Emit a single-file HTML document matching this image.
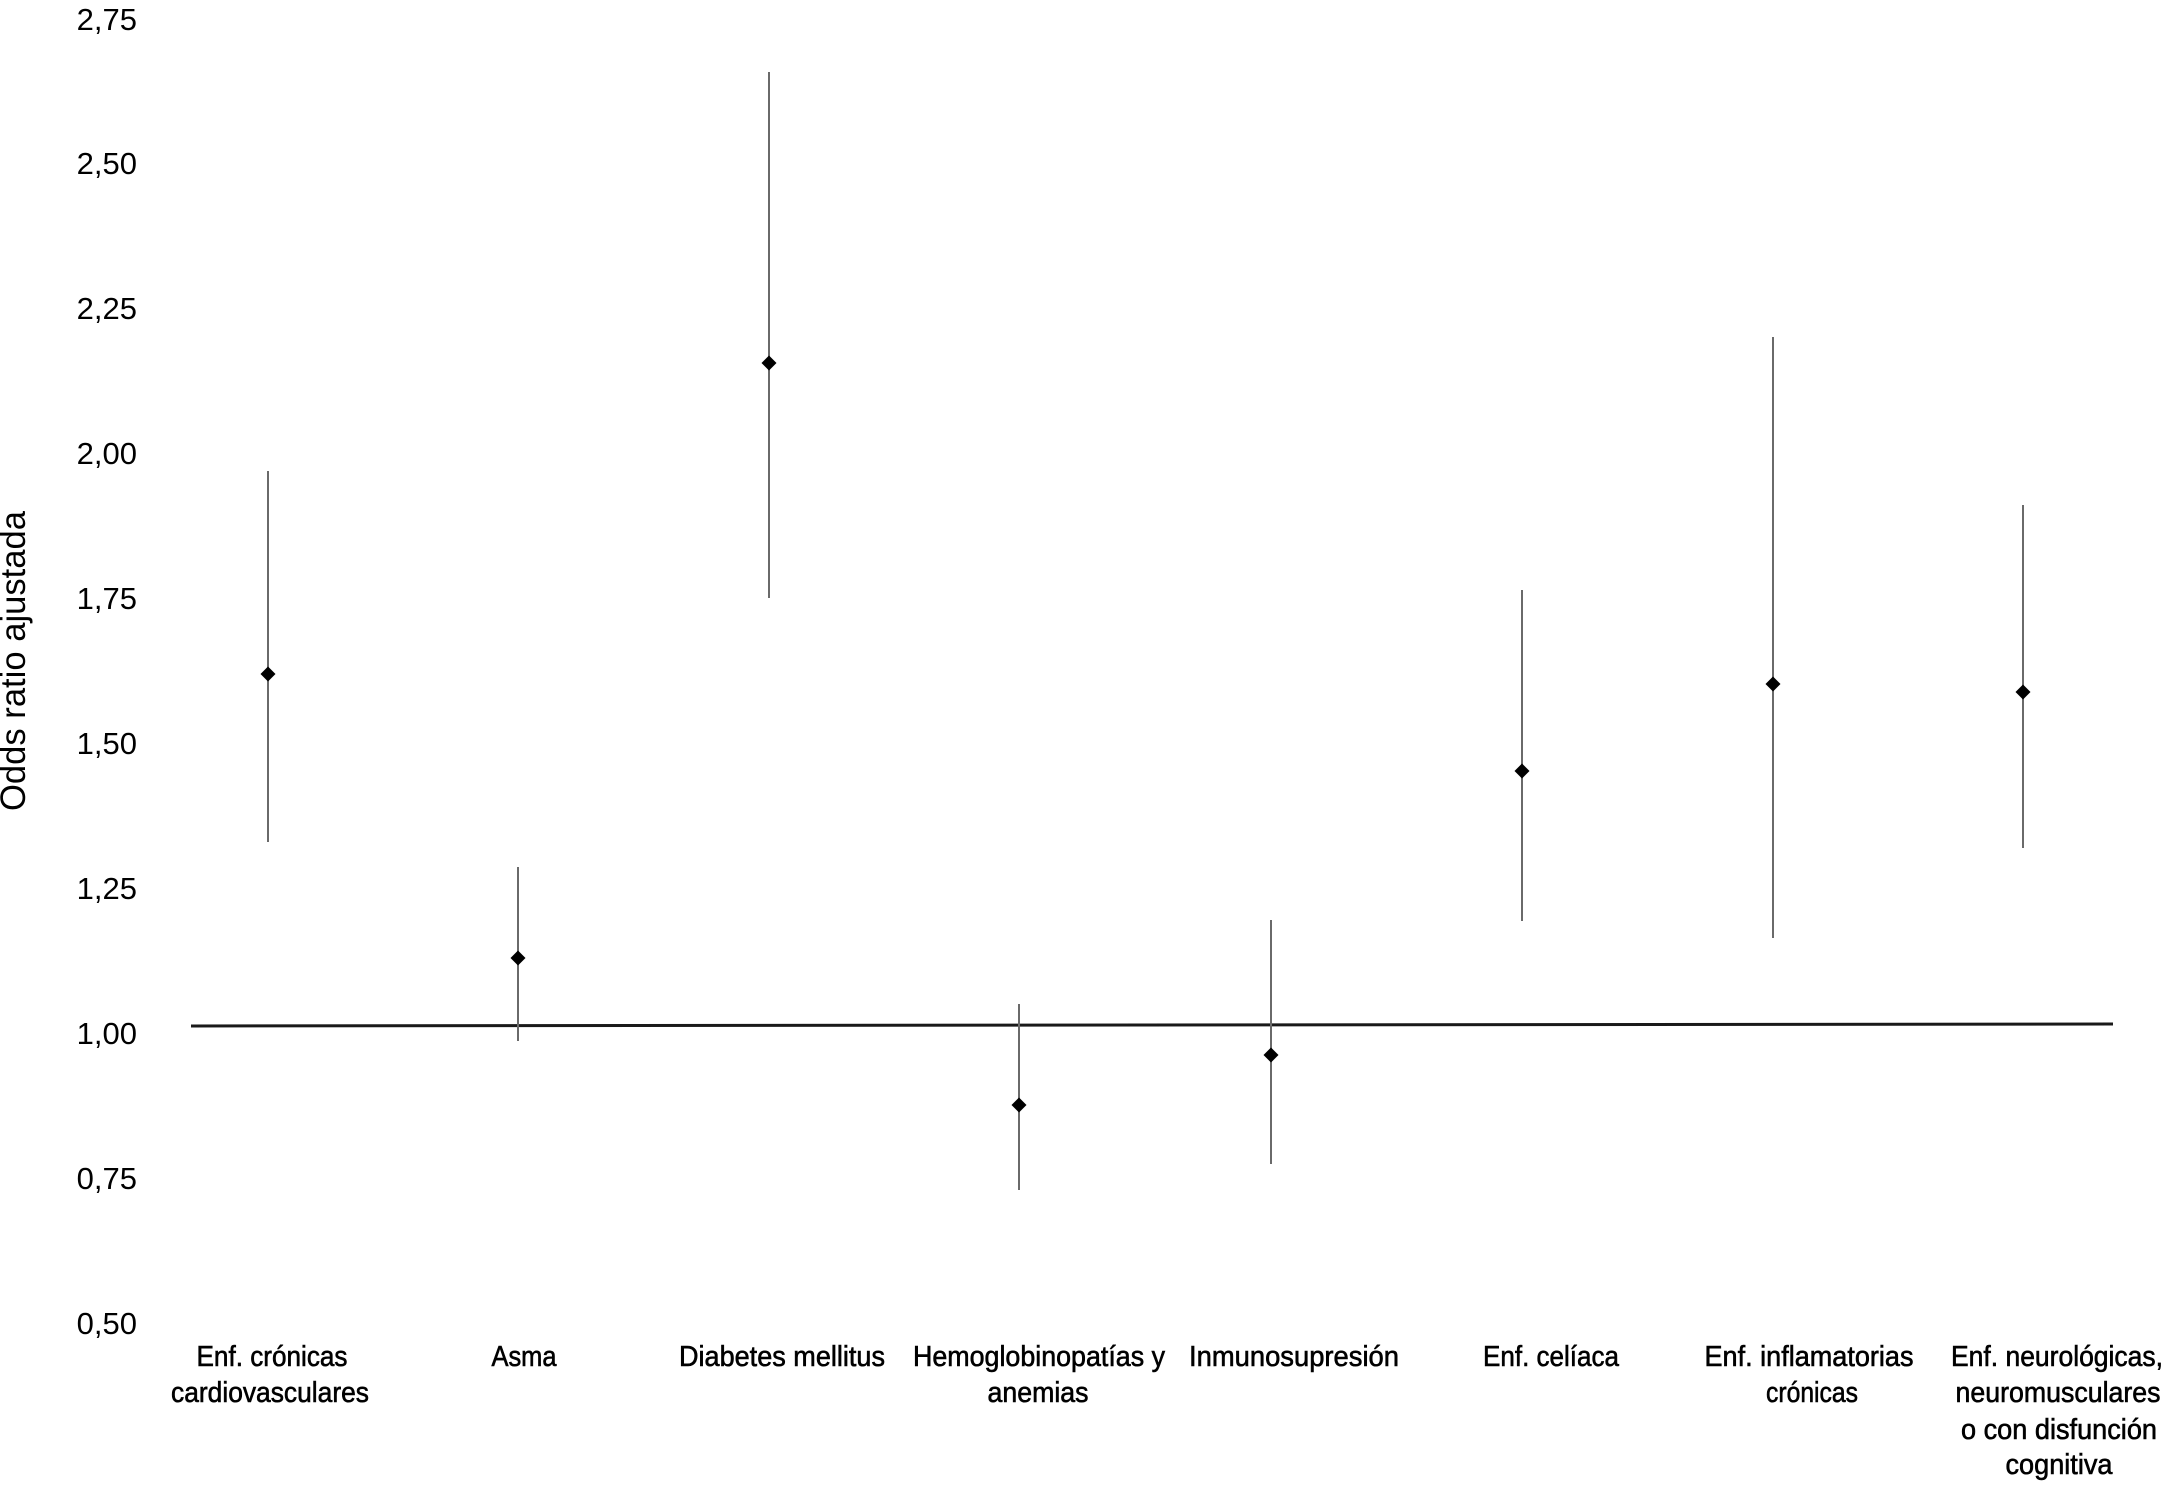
<!DOCTYPE html>
<html>
<head>
<meta charset="utf-8">
<style>
  html, body { margin: 0; padding: 0; background: #ffffff; }
  svg { display: block; }
</style>
</head>
<body>
<svg width="2166" height="1488" viewBox="0 0 2166 1488" xmlns="http://www.w3.org/2000/svg">
  <rect x="0" y="0" width="2166" height="1488" fill="#ffffff"/>

  <!-- Y axis title -->
  <text transform="translate(25,661) rotate(-90)" text-anchor="middle" font-family="Liberation Sans, Arial, sans-serif" font-size="35" fill="#000" textLength="300" lengthAdjust="spacingAndGlyphs">Odds ratio ajustada</text>

  <!-- Y tick labels -->
  <g font-family="Liberation Sans, Arial, sans-serif" font-size="31" fill="#000" text-anchor="end">
    <text x="137" y="30">2,75</text>
    <text x="137" y="174">2,50</text>
    <text x="137" y="319">2,25</text>
    <text x="137" y="464">2,00</text>
    <text x="137" y="609">1,75</text>
    <text x="137" y="754">1,50</text>
    <text x="137" y="899">1,25</text>
    <text x="137" y="1044">1,00</text>
    <text x="137" y="1189">0,75</text>
    <text x="137" y="1334">0,50</text>
  </g>

  <!-- Reference line at 1.00 -->
  <line x1="191" y1="1026" x2="2113" y2="1024" stroke="#1a1a1a" stroke-width="3"/>

  <!-- Error bars -->
  <g stroke="#6a6a6a" stroke-width="2">
    <line x1="268" y1="471" x2="268" y2="842"/>
    <line x1="518" y1="867" x2="518" y2="1041"/>
    <line x1="769" y1="72" x2="769" y2="598"/>
    <line x1="1019" y1="1004" x2="1019" y2="1190"/>
    <line x1="1271" y1="920" x2="1271" y2="1164"/>
    <line x1="1522" y1="590" x2="1522" y2="921"/>
    <line x1="1773" y1="337" x2="1773" y2="938"/>
    <line x1="2023" y1="505" x2="2023" y2="848"/>
  </g>

  <!-- Point estimates (diamonds) -->
  <g fill="#000">
    <polygon points="268,666.5 275.5,674 268,681.5 260.5,674"/>
    <polygon points="518,950.5 525.5,958 518,965.5 510.5,958"/>
    <polygon points="769,355.5 776.5,363 769,370.5 761.5,363"/>
    <polygon points="1019,1097.5 1026.5,1105 1019,1112.5 1011.5,1105"/>
    <polygon points="1271,1047.5 1278.5,1055 1271,1062.5 1263.5,1055"/>
    <polygon points="1522,763.5 1529.5,771 1522,778.5 1514.5,771"/>
    <polygon points="1773,676.5 1780.5,684 1773,691.5 1765.5,684"/>
    <polygon points="2023,684.5 2030.5,692 2023,699.5 2015.5,692"/>
  </g>

  <!-- Category labels -->
  <g font-family="Liberation Sans, Arial, sans-serif" font-size="29" fill="#000" stroke="#000" stroke-width="0.6" text-anchor="middle">
    <text x="272" y="1366" textLength="151" lengthAdjust="spacingAndGlyphs">Enf. crónicas</text>
    <text x="270" y="1402" textLength="198" lengthAdjust="spacingAndGlyphs">cardiovasculares</text>

    <text x="524" y="1366" textLength="65" lengthAdjust="spacingAndGlyphs">Asma</text>

    <text x="782" y="1366" textLength="206" lengthAdjust="spacingAndGlyphs">Diabetes mellitus</text>

    <text x="1039" y="1366" textLength="252" lengthAdjust="spacingAndGlyphs">Hemoglobinopatías y</text>
    <text x="1038" y="1402" textLength="101" lengthAdjust="spacingAndGlyphs">anemias</text>

    <text x="1294" y="1366" textLength="210" lengthAdjust="spacingAndGlyphs">Inmunosupresión</text>

    <text x="1551" y="1366" textLength="136" lengthAdjust="spacingAndGlyphs">Enf. celíaca</text>

    <text x="1809" y="1366" textLength="209" lengthAdjust="spacingAndGlyphs">Enf. inflamatorias</text>
    <text x="1812" y="1402" textLength="92" lengthAdjust="spacingAndGlyphs">crónicas</text>

    <text x="2057" y="1366" textLength="212" lengthAdjust="spacingAndGlyphs">Enf. neurológicas,</text>
    <text x="2058" y="1402" textLength="205" lengthAdjust="spacingAndGlyphs">neuromusculares</text>
    <text x="2059" y="1439" textLength="196" lengthAdjust="spacingAndGlyphs">o con disfunción</text>
    <text x="2059" y="1474" textLength="107" lengthAdjust="spacingAndGlyphs">cognitiva</text>
  </g>
</svg>
</body>
</html>
